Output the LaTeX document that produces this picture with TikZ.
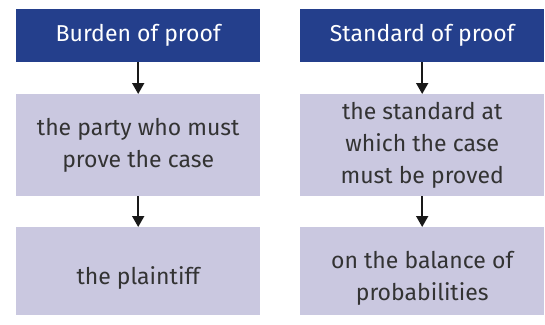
\documentclass[tikz,border=0pt]{standalone}
\usepackage{fontspec}
\setmainfont{Fira Sans}
\usetikzlibrary{arrows.meta}
\definecolor{headblue}{HTML}{243F8C}
\definecolor{boxlilac}{HTML}{CAC8E0}
\definecolor{bodytext}{HTML}{333333}
% tall invisible strut that sets a box's text a little lower
\newcommand\dropstrut{\rule{0pt}{31pt}}
\begin{document}
\begin{tikzpicture}[x=1pt,y=-1pt,
  header/.style={fill=headblue,text=white,minimum width=244pt,minimum height=53pt,
    inner sep=0pt,font=\fontsize{23}{27}\selectfont,anchor=north west},
  bodybox/.style={fill=boxlilac,text=bodytext,minimum width=244pt,inner sep=0pt,
    align=center,font=\fontsize{23}{32}\selectfont,anchor=north west},
  flow/.style={line width=1.8pt,draw=black!90,-{Triangle[width=12pt,length=11pt]}}]
  \useasboundingbox (0,0) rectangle (545,324);
  % left column
  \node[header] (h1) at (16,9) {Burden of proof};
  \node[bodybox,minimum height=102pt] (b1) at (16,94) {the party who must\\prove the case};
  \node[bodybox,minimum height=88pt] (c1) at (16,227) {\dropstrut the plaintiff};
  % right column
  \node[header] (h2) at (300,9) {Standard of proof};
  \node[bodybox,minimum height=102pt] (b2) at (300,94) {the standard at\\which the case\\must be proved};
  \node[bodybox,minimum height=88pt] (c2) at (300,227) {\dropstrut on the balance of\\probabilities};
  % connectors
  \draw[flow] (h1.south) -- (b1.north);
  \draw[flow] (b1.south) -- (c1.north);
  \draw[flow] (h2.south) -- (b2.north);
  \draw[flow] (b2.south) -- (c2.north);
\end{tikzpicture}
\end{document}
